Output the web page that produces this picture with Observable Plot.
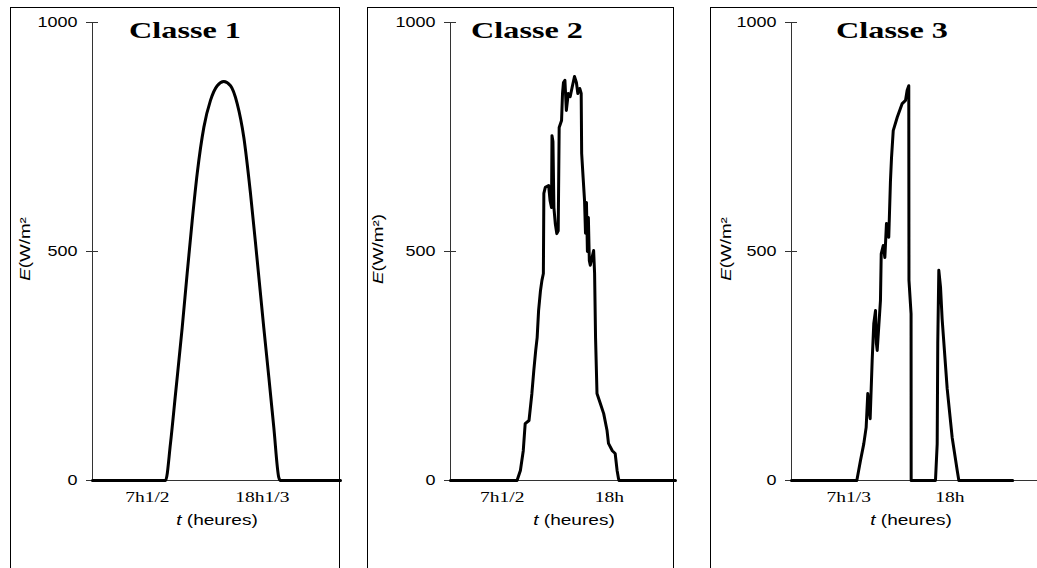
<!DOCTYPE html>
<html><head><meta charset="utf-8">
<script src="https://cdn.jsdelivr.net/npm/d3@7"></script>
<script src="https://cdn.jsdelivr.net/npm/@observablehq/plot@0.6"></script>
<style>
html,body{margin:0;padding:0;background:#fff;}
#root{position:relative;width:1037px;height:568px;overflow:hidden;background:#fff;font-family:"Liberation Sans",Arial,sans-serif;color:#000;}
.box{position:absolute;top:7px;height:600px;border:1px solid #000;box-sizing:border-box;}
.plot{position:absolute;top:0;}
.title{position:absolute;width:200px;text-align:center;font-family:"Liberation Serif","Times New Roman",serif;font-weight:bold;font-size:23px;line-height:normal;transform:scaleX(1.4);top:18px;white-space:nowrap;}
.xlab{position:absolute;width:160px;text-align:center;font-size:15px;line-height:normal;top:511px;transform:scaleX(1.27);white-space:nowrap;}
.ylab{position:absolute;width:100px;height:20px;line-height:20px;text-align:center;font-size:15px;transform:rotate(-90deg) scaleX(1.25);white-space:nowrap;}
</style></head>
<body><div id="root"></div>
<script>
// ---- data ----
const titles = ["Classe 1", "Classe 2", "Classe 3"];
const yLabels = ["E(W/m²", "E(W/m²)", "E(W/m²"];
const xLabel = "(heures)";
const yTicks = [0, 500, 1000];

const tickLabels1 = ["7h1/2", "18h1/3"];
const tickPos1 = [5.7, 16.6];
const tickLabels2 = ["7h1/2", "18h"];
const tickPos2 = [5.9, 17.1];
const tickLabels3 = ["7h1/3", "18h"];
const tickPos3 = [6.5, 17.1];

const hours1 = [0.5, 7.42, 7.89, 8.37, 9.0, 9.47, 9.95, 10.42, 11.05, 11.68, 12.32, 12.94, 13.58, 14.21, 14.84, 15.47, 16.11, 16.73, 17.21, 17.68, 18.15, 18.31, 24];
const values1 = [0, 0, 81, 190, 334, 452, 568, 670, 771, 830, 862, 871, 862, 823, 749, 627, 480, 334, 225, 116, 7, 0, 0];

const hours2 = [0.5, 7.45, 7.8, 8.1, 8.3, 8.7, 9.0, 9.2, 9.4, 9.55, 9.7, 9.9, 10.05, 10.2, 10.25, 10.4, 10.75, 10.9, 11.05, 11.1, 11.2, 11.3, 11.45, 11.6, 11.75, 11.85, 12.1, 12.2, 12.3, 12.45, 12.6, 12.8, 13.0, 13.2, 13.45, 13.65, 13.8, 14.0, 14.15, 14.2, 14.35, 14.5, 14.6, 14.7, 14.8, 14.9, 15.0, 15.1, 15.45, 15.55, 15.65, 15.8, 16.15, 16.5, 16.85, 17.0, 17.4, 17.7, 17.9, 18.05, 18.1, 24];
const values2 = [0, 0, 22, 65, 124, 131, 190, 240, 284, 312, 371, 415, 437, 452, 627, 640, 644, 611, 596, 753, 740, 596, 560, 539, 545, 771, 786, 845, 869, 874, 808, 845, 838, 858, 882, 869, 845, 856, 845, 714, 662, 611, 540, 607, 500, 574, 480, 470, 502, 452, 312, 190, 168, 146, 109, 81, 65, 59, 22, 4, 0, 0];

const hours3 = [0.5, 7.35, 7.74, 8.08, 8.33, 8.5, 8.6, 8.75, 8.96, 9.13, 9.31, 9.4, 9.49, 9.83, 9.91, 10.12, 10.29, 10.46, 10.7, 10.88, 10.99, 11.17, 11.59, 12.11, 12.46, 12.63, 12.8, 12.82, 13.04, 13.05, 15.6, 15.78, 15.84, 15.95, 16.13, 16.3, 16.83, 17.35, 17.88, 18.05, 23.7];
const values3 = [0, 0, 44, 80, 116, 190, 160, 135, 262, 343, 371, 300, 284, 393, 495, 513, 487, 561, 531, 655, 705, 764, 793, 823, 830, 852, 862, 437, 364, 0, 0, 80, 299, 459, 422, 352, 200, 94, 22, 0, 0];

// ---- layout ----
const panels = [
  {hours: hours1, values: values1, tickPos: tickPos1, tickLabels: tickLabels1, domain: [0.5, 24], curve: "monotone-x",
   svgLeft: 10, width: 330, marginLeft: 82, boxLeft: 10, boxWidth: 330, titleX: 185, xlabX: 217, ylabX: 25},
  {hours: hours2, values: values2, tickPos: tickPos2, tickLabels: tickLabels2, domain: [0.5, 24], curve: "linear",
   svgLeft: 367, width: 308, marginLeft: 83, boxLeft: 367, boxWidth: 307, titleX: 527, xlabX: 574, ylabX: 378},
  {hours: hours3, values: values3, tickPos: tickPos3, tickLabels: tickLabels3, domain: [0.5, 26.3], curve: "linear",
   svgLeft: 710, width: 327, marginLeft: 81, boxLeft: 710, boxWidth: 400, titleX: 892, xlabX: 911, ylabX: 726}
];

const root = document.getElementById("root");

panels.forEach((p, k) => {
  const box = document.createElement("div");
  box.className = "box";
  box.style.left = p.boxLeft + "px";
  box.style.width = p.boxWidth + "px";
  root.appendChild(box);

  const data = p.hours.map((h, i) => ({h, e: p.values[i]}));
  const svg = Plot.plot({
    width: p.width, height: 568,
    marginLeft: p.marginLeft, marginRight: 0, marginTop: 22, marginBottom: 88,
    x: {domain: p.domain},
    y: {domain: [0, 1000]},
    style: {fontFamily: "Liberation Sans, Arial, sans-serif", fontSize: "15px", background: "transparent", color: "#000", overflow: "visible"},
    marks: [
      Plot.ruleY([0], {stroke: "#333", strokeWidth: 1.2}),
      Plot.ruleX([p.domain[0]], {stroke: "#333", strokeWidth: 1}),
      Plot.axisY({ticks: yTicks, tickSize: 12, dx: 6, fill: "none", stroke: "#333", label: null}),
      Plot.axisY({ticks: yTicks, tickSize: 0, tickPadding: 15, label: null, tickFormat: d => String(d), fontSize: 15}),
      Plot.axisX({ticks: p.tickPos, tickSize: 0, tickPadding: 11, label: null,
        tickFormat: d => p.tickLabels[p.tickPos.indexOf(d)],
        fontFamily: "Liberation Serif, Times New Roman, serif", fontSize: 15}),
      Plot.line(data, {x: "h", y: "e", stroke: "#000", strokeWidth: 3, curve: p.curve, strokeLinejoin: "round", strokeLinecap: "round"})
    ]
  });
  svg.classList.add("plot");
  svg.style.left = p.svgLeft + "px";
  root.appendChild(svg);

  // horizontal stretch of axis texts, as in the reference
  svg.querySelectorAll("text").forEach(t => {
    const len = t.getComputedTextLength();
    const fam = getComputedStyle(t).fontFamily || "";
    const f = /Serif|Times/i.test(fam) && !/Sans/i.test(fam) ? 1.3 : 1.2;
    if (len > 0) {
      t.setAttribute("textLength", (len * f).toFixed(1));
      t.setAttribute("lengthAdjust", "spacingAndGlyphs");
    }
  });

  const title = document.createElement("div");
  title.className = "title";
  title.style.left = (p.titleX - 100) + "px";
  title.textContent = titles[k];
  root.appendChild(title);

  const xl = document.createElement("div");
  xl.className = "xlab";
  xl.style.left = (p.xlabX - 80) + "px";
  xl.innerHTML = "<i>t</i> " + xLabel;
  root.appendChild(xl);

  const yl = document.createElement("div");
  yl.className = "ylab";
  yl.style.left = (p.ylabX - 50) + "px";
  yl.style.top = (249 - 10) + "px";
  const lab = yLabels[k];
  yl.innerHTML = "<i>" + lab[0] + "</i>" + lab.slice(1);
  root.appendChild(yl);
});
</script>
</body></html>
